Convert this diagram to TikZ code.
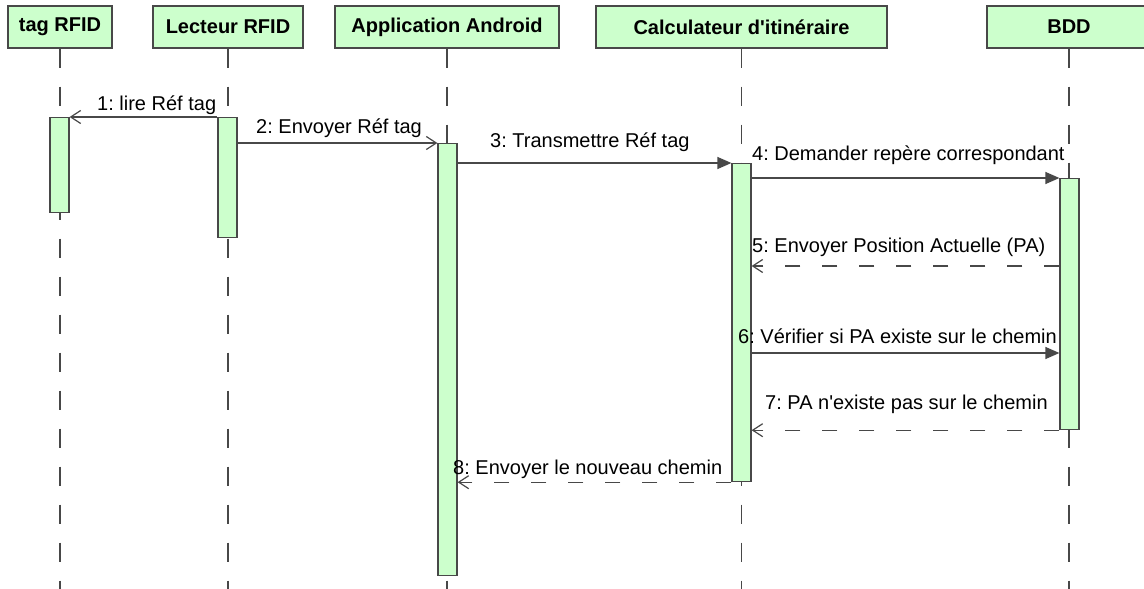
\documentclass[tikz,border=0pt]{standalone}
\usepackage{fontspec}
\setmainfont{Liberation Sans}
\usetikzlibrary{arrows.meta}
\definecolor{umlgreen}{RGB}{204,255,204}
\definecolor{umlline}{RGB}{72,72,72}
\frenchspacing

\begin{document}
\begin{tikzpicture}[
    x=1pt, y=-1pt,
    actor/.style={draw=umlline, fill=umlgreen, line width=1.2pt, minimum height=42pt, inner sep=0pt, font=\fontsize{20}{24}\selectfont\bfseries},
    bar/.style={draw=umlline, fill=umlgreen, line width=1.2pt, minimum width=19pt, inner sep=0pt, anchor=north},
    lifeline/.style={umlline, line width=1.2pt, dash pattern=on 19pt off 19pt},
    call/.style={umlline, line width=1.2pt, -{Triangle[length=14pt,width=12pt]}},
    async/.style={umlline, line width=1.2pt, -{Straight Barb[length=10pt,width=13pt]}},
    reply/.style={async, dash pattern=on 15pt off 22pt},
    lbl/.style={anchor=base west, inner sep=0pt, font=\fontsize{20}{24}\selectfont}
]

    \useasboundingbox (0,0) rectangle (1144,589);
    \clip (0,0) rectangle (1144,589);

    % ================= LIFELINE HEADS =================
    \node[actor, minimum width=104pt] (tag) at (60,27) {tag RFID};
    \node[actor, minimum width=150pt] (lecteur) at (228,27) {Lecteur RFID};
    \node[actor, minimum width=224pt] (appli) at (447,27) {Application Android};
    \node[actor, minimum width=291pt] (calc) at (741.5,27) {Calculateur d\textquotesingle itinéraire};
    \node[actor, minimum width=164pt] (bdd) at (1069,27) {BDD};

    \coordinate (bottom) at (0,589);

    \draw[lifeline] (tag.south) -- (tag.south |- bottom);
    \draw[lifeline] (lecteur.south) -- (lecteur.south |- bottom);
    \draw[lifeline] (appli.south) -- (appli.south |- bottom);
    \draw[lifeline] (calc.south) -- (calc.south |- bottom);
    \draw[lifeline] (bdd.south) -- (bdd.south |- bottom);

    % ================= ACTIVATION BARS =================
    \node[bar, minimum height=95pt] (tagBar) at (59.5,117) {};
    \node[bar, minimum height=120pt] (lecBar) at (227.5,117) {};
    \node[bar, minimum height=432pt] (appBar) at (447.5,143) {};
    \node[bar, minimum height=318pt] (calBar) at (741.5,163) {};
    \node[bar, minimum height=251pt] (bddBar) at (1069.5,178) {};

    % ================= MESSAGES =================
    \coordinate (y5) at (0,266);
    \coordinate (y6) at (0,353);

    \draw[async] (lecBar.north west) -- (tagBar.north east);
    \draw[async] (lecBar.east |- appBar.north) -- (appBar.north west);
    \draw[call] (appBar.east |- calBar.north) -- (calBar.north west);
    \draw[call] (calBar.east |- bddBar.north) -- (bddBar.north west);
    \draw[reply] (bddBar.west |- y5) -- (calBar.east |- y5);
    \draw[call] (calBar.east |- y6) -- (bddBar.west |- y6);
    \draw[reply] (bddBar.south west) -- (calBar.east |- bddBar.south);
    \draw[reply] (calBar.south west) -- (appBar.east |- calBar.south);

    % ================= LABELS =================
    \node[lbl] (l1) at (97,110) {1: lire Réf tag};
    \node[lbl] (l2) at (256,133) {2: Envoyer Réf tag};
    \node[lbl] (l3) at (490,147) {3: Transmettre Réf tag};
    \node[lbl] (l4) at (752,160) {4: Demander repère correspondant};
    \node[lbl] (l5) at (752,252) {5: Envoyer Position Actuelle (PA)};
    \node[lbl] (l6) at (738,343) {6: Vérifier si PA existe sur le chemin};
    \node[lbl] (l7) at (765,409) {7: PA n\textquotesingle existe pas sur le chemin};
    \node[lbl] (l8) at (453,474) {8: Envoyer le nouveau chemin};

\end{tikzpicture}
\end{document}
